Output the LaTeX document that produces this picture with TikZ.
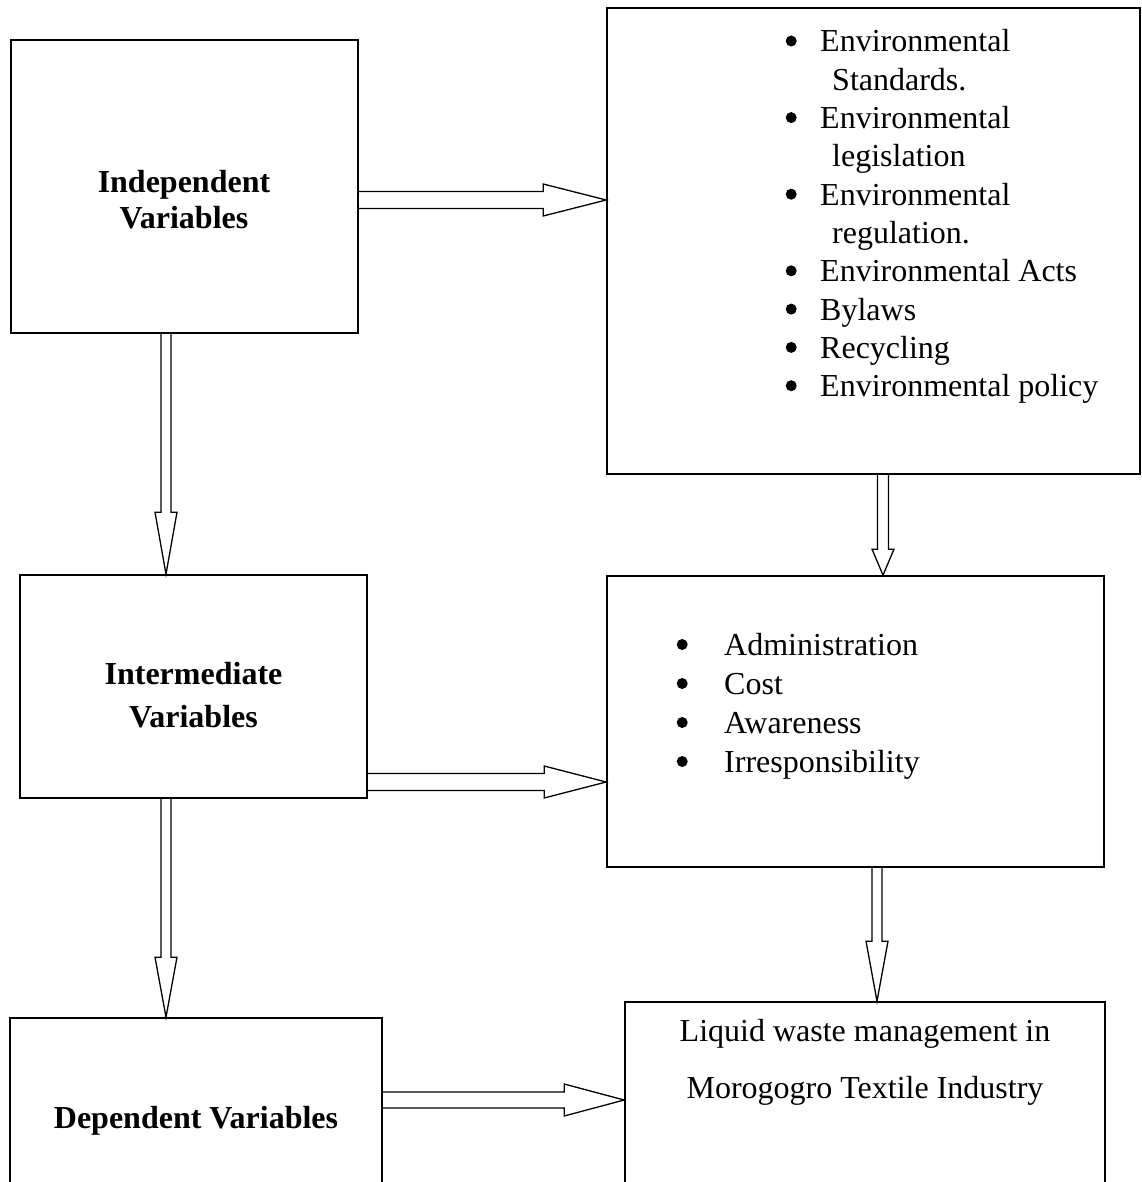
\documentclass[tikz,border=0pt]{standalone}
\usepackage{fontspec}
\setmainfont{Liberation Serif}
\usetikzlibrary{calc}
\tikzstyle{box}=[draw=black,line width=1.7pt,inner sep=0pt]
\tikzstyle{heading}=[anchor=base,inner sep=0pt,font=\fontsize{32}{38.3}\selectfont\bfseries]
\tikzstyle{items}=[anchor=base west,inner sep=0pt]
\tikzstyle{hollow}=[draw=black,line width=1.3pt,line join=miter]

\newcommand{\bul}{\tikz[baseline=0pt]\fill[black] (5.5pt,11pt) circle[radius=5.5pt];}

% outlined block arrow: start, tip, half shaft, half head, head length
\newcommand{\dblarrow}[5]{%
  \coordinate (hb) at ($(#2)!#5!(#1)$);
  \draw[hollow] ($(#1)!#3!90:(#2)$) -- ($(hb)!#3!90:(#2)$) -- ($(hb)!#4!90:(#2)$)
    -- (#2) -- ($(hb)!#4!-90:(#2)$) -- ($(hb)!#3!-90:(#2)$) -- ($(#1)!#3!-90:(#2)$);}

\begin{document}
\begin{tikzpicture}[x=1pt,y=-1pt,font=\fontsize{32}{38.3}\selectfont]
  \clip (0,0) rectangle (1141,1182);
  % boxes
  \node[box,minimum width=347pt,minimum height=293pt] (indep) at (184.5,186.5) {};
  \node[box,minimum width=533pt,minimum height=466pt] (list1) at (873.5,241) {};
  \node[box,minimum width=347pt,minimum height=223pt] (inter) at (193.5,686.5) {};
  \node[box,minimum width=497pt,minimum height=291pt] (list2) at (855.5,721.5) {};
  \node[box,minimum width=372pt,minimum height=182pt] (dep) at (196,1109) {};
  \node[box,minimum width=480pt,minimum height=198pt] (liquid) at (865,1101) {};

  % texts
  \node[heading,font=\fontsize{32}{36}\selectfont\bfseries] (indeplbl) at (184,193)
    {\begin{tabular}[t]{@{}c@{}}Independent\\Variables\end{tabular}};
  \node[heading,font=\fontsize{32}{43}\selectfont\bfseries] (interlbl) at (193.5,684)
    {\begin{tabular}[t]{@{}c@{}}Intermediate\\Variables\end{tabular}};
  \node[heading] (deplbl) at (196,1128) {Dependent Variables};
  \node[items] (list1txt) at (785.5,52) {\begin{tabular}[t]{@{}l@{}}
    \makebox[34.5pt][l]{\bul}Environmental\\
    \hspace{46.5pt}Standards.\\
    \makebox[34.5pt][l]{\bul}Environmental\\
    \hspace{46.5pt}legislation\\
    \makebox[34.5pt][l]{\bul}Environmental\\
    \hspace{46.5pt}regulation.\\
    \makebox[34.5pt][l]{\bul}Environmental Acts\\
    \makebox[34.5pt][l]{\bul}Bylaws\\
    \makebox[34.5pt][l]{\bul}Recycling\\
    \makebox[34.5pt][l]{\bul}Environmental policy
  \end{tabular}};
  \node[items,font=\fontsize{32}{39}\selectfont] (list2txt) at (676.5,655.5) {\begin{tabular}[t]{@{}l@{}}
    \makebox[47.5pt][l]{\bul}Administration\\
    \makebox[47.5pt][l]{\bul}Cost\\
    \makebox[47.5pt][l]{\bul}Awareness\\
    \makebox[47.5pt][l]{\bul}Irresponsibility
  \end{tabular}};
  \node[anchor=base,inner sep=0pt,font=\fontsize{32}{57}\selectfont] (liquidtxt) at (865,1041)
    {\begin{tabular}[t]{@{}c@{}}Liquid waste management in\\Morogogro Textile Industry\end{tabular}};

  % arrows
  \dblarrow{indep.east |- 0,200}{list1.west |- 0,200}{8.5pt}{16pt}{63pt}
  \dblarrow{indep.south -| 166,0}{inter.north -| 166,0}{5pt}{11pt}{62pt}
  \dblarrow{list1.south -| 883,0}{list2.north -| 883,0}{5.5pt}{11pt}{26pt}
  \dblarrow{inter.east |- 0,782}{list2.west |- 0,782}{8.5pt}{16pt}{62pt}
  \dblarrow{inter.south -| 166,0}{dep.north -| 166,0}{5pt}{11pt}{60pt}
  \dblarrow{list2.south -| 877,0}{liquid.north -| 877,0}{5pt}{11pt}{60pt}
  \dblarrow{dep.east |- 0,1100}{liquid.west |- 0,1100}{8pt}{16pt}{60pt}
\end{tikzpicture}
\end{document}
